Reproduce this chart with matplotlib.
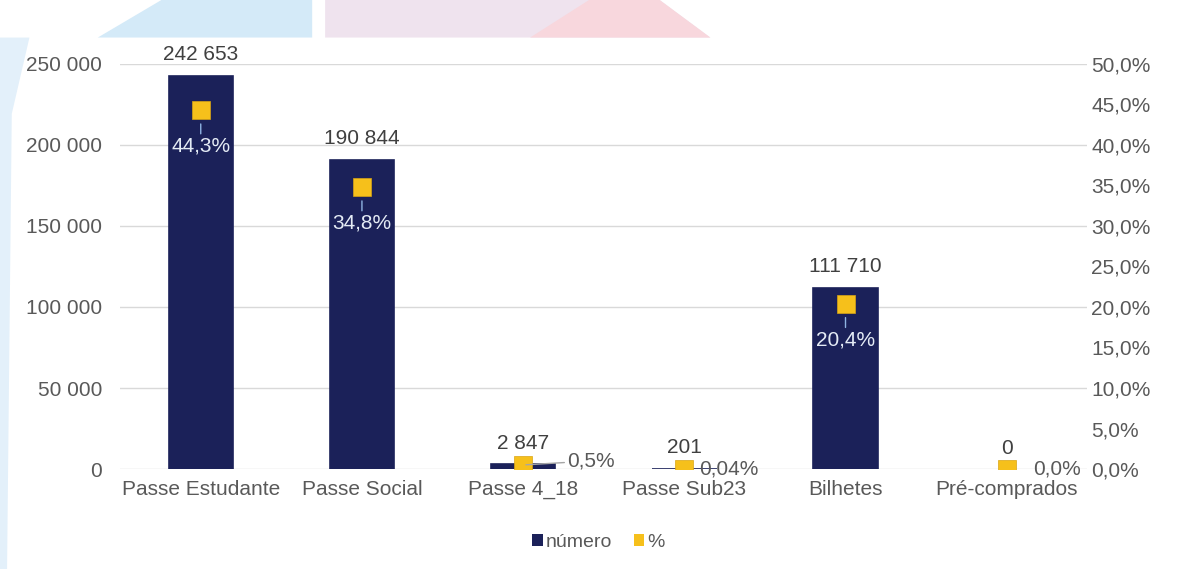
import matplotlib.pyplot as plt
from matplotlib.patches import Polygon
from matplotlib.patches import Patch

plt.rcParams['font.family'] = ['Liberation Sans', 'DejaVu Sans']

# Dados
categorias = ['Passe Estudante', 'Passe Social', 'Passe 4_18', 'Passe Sub23', 'Bilhetes', 'Pré-comprados']
numero = [242653, 190844, 2847, 201, 111710, 0]
percentagem = [44.3, 34.8, 0.5, 0.04, 20.4, 0.0]
yticks_num = [0, 50000, 100000, 150000, 200000, 250000]
yticks_pct = [0, 5, 10, 15, 20, 25, 30, 35, 40, 45, 50]

azul = '#1B2159'
amarelo = '#F6C01B'
cinza = '#595959'


def fmt_num(v):
    return f'{v:,.0f}'.replace(',', ' ')


def fmt_pct(v):
    casas = 2 if 0 < v < 0.1 else 1
    return f'{v:.{casas}f}'.replace('.', ',') + '%'


fig = plt.figure(figsize=(11.78, 5.69), dpi=100)

# fundo decorativo (faixas diagonais no topo e faixa azul à esquerda)
decor = [
    ([[0.083, 0.934], [0.137, 1.0], [0.265, 1.0], [0.265, 0.934]], '#D4EAF8'),
    ([[0.276, 0.934], [0.276, 1.0], [0.56, 1.0], [0.603, 0.934]], '#EFE3EE'),
    ([[0.45, 0.934], [0.50, 1.0], [0.56, 1.0], [0.603, 0.934]], '#F8D7DD'),
    ([[0.0, 0.0], [0.006, 0.0], [0.01, 0.8], [0.025, 0.934], [0.0, 0.934]], '#E3F0FA'),
]
for pts, cor in decor:
    fig.patches.append(Polygon(pts, closed=True, transform=fig.transFigure,
                               facecolor=cor, edgecolor='none', zorder=-1))

ax = fig.add_axes([0.102, 0.1757, 0.821, 0.712])
ax2 = ax.twinx()

x = list(range(len(categorias)))
ax.bar(x, numero, width=0.4, color=azul, edgecolor=azul,
       linewidth=[0 if v == 0 else 1.2 for v in numero], zorder=2)
ax.set_ylim(0, 250000)
ax.set_xlim(-0.5, len(categorias) - 0.5)
ax.set_yticks(yticks_num)
ax.set_yticklabels([fmt_num(v) for v in yticks_num])
ax.set_xticks(x)
ax.set_xticklabels(categorias)
ax.grid(axis='y', color='#D9D9D9', linewidth=1, zorder=0)
ax.set_axisbelow(True)

for a in (ax, ax2):
    for s in a.spines.values():
        s.set_visible(False)
    a.tick_params(length=0, labelsize=15, colors=cinza)
ax.tick_params(axis='y', pad=13)
ax.tick_params(axis='x', pad=8)
ax2.tick_params(axis='y', pad=3)

ax2.plot(x, percentagem, linestyle='none', marker='s', markersize=12.5,
         markerfacecolor=amarelo, markeredgecolor='#D9A514', markeredgewidth=0.5, zorder=4)
ax2.set_ylim(0, 50)
ax2.set_yticks(yticks_pct)
ax2.set_yticklabels([f'{v:.1f}'.replace('.', ',') + '%' for v in yticks_pct])

# rótulos dos valores das barras
for xi, v in zip(x, numero):
    ax.annotate(fmt_num(v), (xi, v), xytext=(0, 21), textcoords='offset pixels',
                ha='center', va='center', fontsize=15, color='#404040')

# rótulos das percentagens
for xi, p, n in zip(x, percentagem, numero):
    if n > 50000:
        ax2.annotate(fmt_pct(p), (xi, p), xytext=(0, -36), textcoords='offset pixels',
                     ha='center', va='center', fontsize=15, color='#E4EBF5', zorder=5,
                     arrowprops=dict(arrowstyle='-', color='#8FB4E3', lw=1,
                                     shrinkA=0, shrinkB=10))
    elif p > 0.2:
        ax2.annotate(fmt_pct(p), (xi, p), xytext=(44, 4), textcoords='offset pixels',
                     ha='left', va='center', fontsize=15, color=cinza, zorder=5,
                     arrowprops=dict(arrowstyle='-', color='#A6A6A6', lw=1,
                                     shrinkA=0, shrinkB=2))
    elif p > 0:
        ax2.annotate(fmt_pct(p), (xi, p), xytext=(15, 0), textcoords='offset pixels',
                     ha='left', va='center', fontsize=15, color=cinza, zorder=5)
    else:
        ax2.annotate(fmt_pct(p), (xi, p), xytext=(26, 0), textcoords='offset pixels',
                     ha='left', va='center', fontsize=15, color=cinza, zorder=5)

# legenda
handles = [Patch(facecolor=azul, label='número'), Patch(facecolor=amarelo, label='%')]
fig.legend(handles=handles, loc='center', bbox_to_anchor=(0.508, 0.047), ncol=2,
           frameon=False, fontsize=14, labelcolor=cinza, handlelength=0.55,
           handleheight=0.55, handletextpad=0.15, columnspacing=1.1)

fig.savefig('out.png', dpi=100)
